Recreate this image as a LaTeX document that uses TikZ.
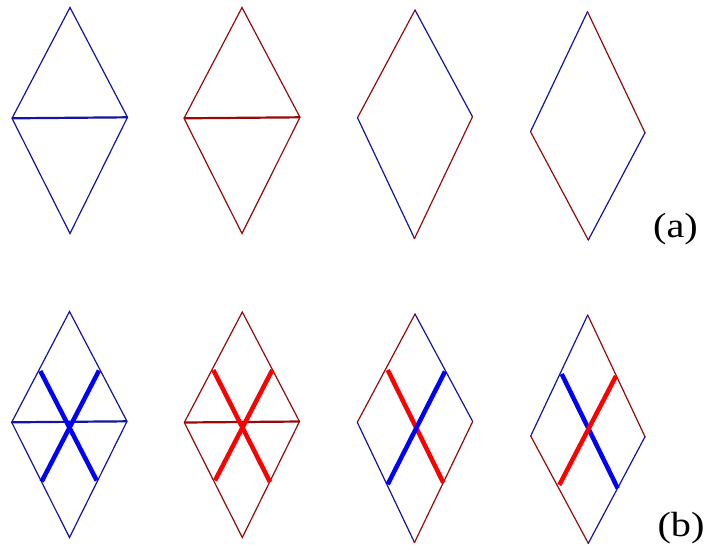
\documentclass[tikz,border=0pt]{standalone}
\usepackage{fontspec}
\setmainfont{Liberation Serif}
\definecolor{edgeblue}{RGB}{20,20,160}
\definecolor{edgered}{RGB}{150,10,10}
\tikzset{
  eb/.style={draw=edgeblue,line width=1.2pt,line cap=round},
  er/.style={draw=edgered,line width=1.2pt,line cap=round},
  db/.style={draw=edgeblue,line width=2.2pt},
  dr/.style={draw=edgered,line width=2.2pt},
  bondb/.style={draw=blue,line width=4.5pt},
  bondr/.style={draw=red,line width=4.5pt},
  lab/.style={font=\fontsize{35}{40}\selectfont,inner sep=0pt,xscale=1.15,transform shape}
}
\begin{document}
\begin{tikzpicture}[x=1pt,y=-1pt]
\useasboundingbox (0,0) rectangle (709,550);
% ---------- row (a) ----------
\coordinate (a1t) at (70,7.5);   \coordinate (a1l) at (12,118.3);
\coordinate (a1r) at (127.5,117.3); \coordinate (a1b) at (70,233.5);
\draw[eb] (a1t) -- (a1l) -- (a1b) -- (a1r) -- cycle;
\draw[db] (a1l) -- (a1r);
\coordinate (a2t) at (242,7.5);  \coordinate (a2l) at (184,118.3);
\coordinate (a2r) at (300,117.3); \coordinate (a2b) at (242,233.5);
\draw[er] (a2t) -- (a2l) -- (a2b) -- (a2r) -- cycle;
\draw[dr] (a2l) -- (a2r);
\coordinate (a3t) at (415,10);   \coordinate (a3l) at (357.5,117.7);
\coordinate (a3r) at (472.5,116.7); \coordinate (a3b) at (414.5,238.5);
\draw[er] (a3t) -- (a3l); \draw[eb] (a3t) -- (a3r);
\draw[eb] (a3l) -- (a3b); \draw[er] (a3r) -- (a3b);
\coordinate (a4t) at (587.5,11.7); \coordinate (a4l) at (530.5,131.7);
\coordinate (a4r) at (645,132.7);  \coordinate (a4b) at (588.3,240);
\draw[eb] (a4t) -- (a4l); \draw[er] (a4t) -- (a4r);
\draw[er] (a4l) -- (a4b); \draw[eb] (a4r) -- (a4b);
\node[lab] (la) at (675.5,229) {(a)};
% ---------- row (b) ----------
\coordinate (b1t) at (69.5,311.5);  \coordinate (b1l) at (11.7,422.3);
\coordinate (b1r) at (127,421.3);   \coordinate (b1b) at (69.5,537.5);
\draw[eb] (b1t) -- (b1l) -- (b1b) -- (b1r) -- cycle;
\draw[db] (b1l) -- (b1r);
\coordinate (b1p) at (40.3,371); \coordinate (b1q) at (96.7,480.5);
\coordinate (b1u) at (99,370.5); \coordinate (b1v) at (41.7,481.5);
\draw[bondb] (b1p) -- (b1q);
\draw[bondb] (b1u) -- (b1v);
\coordinate (b2t) at (242.3,312);  \coordinate (b2l) at (184.3,422.5);
\coordinate (b2r) at (299.5,421.5); \coordinate (b2b) at (242.3,537.5);
\draw[er] (b2t) -- (b2l) -- (b2b) -- (b2r) -- cycle;
\draw[dr] (b2l) -- (b2r);
\coordinate (b2p) at (213.3,370); \coordinate (b2q) at (270,482);
\coordinate (b2u) at (272.3,370); \coordinate (b2v) at (215,480.5);
\draw[bondr] (b2p) -- (b2q);
\draw[bondr] (b2u) -- (b2v);
\coordinate (b3t) at (415,314);   \coordinate (b3l) at (357.3,422.3);
\coordinate (b3r) at (472.7,421.5); \coordinate (b3b) at (414.5,542.5);
\draw[er] (b3t) -- (b3l); \draw[eb] (b3t) -- (b3r);
\draw[eb] (b3l) -- (b3b); \draw[er] (b3r) -- (b3b);
\coordinate (b3p) at (387.7,370); \coordinate (b3q) at (443.3,482.7);
\coordinate (b3u) at (445,371.5); \coordinate (b3v) at (387.7,484.3);
\draw[bondr] (b3p) -- (b3q);
\draw[bondb] (b3u) -- (b3v);
\coordinate (b4t) at (587.7,315);  \coordinate (b4l) at (530.7,436);
\coordinate (b4r) at (645,436.7);  \coordinate (b4b) at (588.3,543.3);
\draw[eb] (b4t) -- (b4l); \draw[er] (b4t) -- (b4r);
\draw[er] (b4l) -- (b4b); \draw[eb] (b4r) -- (b4b);
\coordinate (b4p) at (561.7,374); \coordinate (b4q) at (617.7,488.3);
\coordinate (b4u) at (616,376);   \coordinate (b4v) at (559.3,485);
\draw[bondb] (b4p) -- (b4q);
\draw[bondr] (b4u) -- (b4v);
\node[lab] (lb) at (681,528) {(b)};
\end{tikzpicture}
\end{document}
